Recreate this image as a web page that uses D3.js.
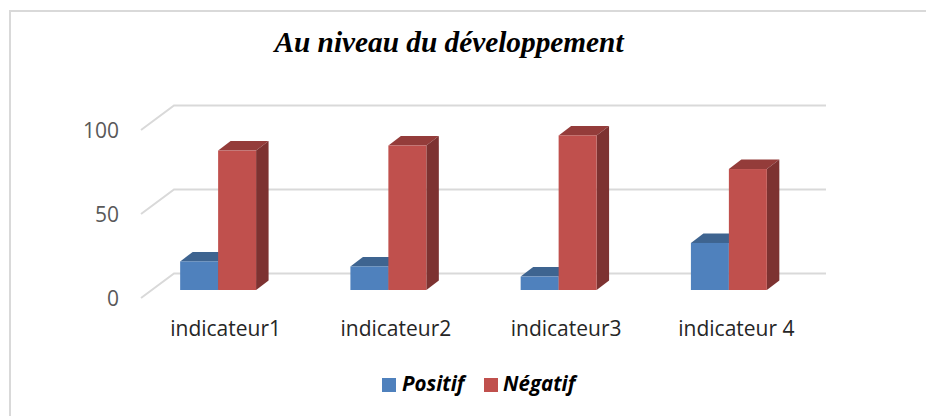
<!DOCTYPE html>
<html>
<head>
<meta charset="utf-8">
<script src="https://cdn.jsdelivr.net/npm/d3@7"></script>
<style>
  html, body { margin: 0; padding: 0; background: #fff; }
  svg { display: block; }
  text { font-family: "Open Sans", sans-serif; }
</style>
</head>
<body>
<div id="chart"></div>
<script>
const categories = ["indicateur1", "indicateur2", "indicateur3", "indicateur 4"];
const seriesNames = ["Positif", "Négatif"];
const positif = [17, 14, 8, 28];
const negatif = [83, 86, 92, 72];
const yTicks = [0, 50, 100];

const width = 926, height = 416;
const frontColors = {"Positif": "#4f81bd", "Négatif": "#c0504d"};
const topColors = {"Positif": "#3e6490", "Négatif": "#943c3a"};
const sideColors = {"Positif": "#335478", "Négatif": "#7d3231"};

let svg = d3.select("#chart").append("svg").attr("width", width).attr("height", height);

// frame, only the top and left edges
svg.append("path")
   .attr("d", "M10,416L10,11L926,11")
   .attr("fill", "none").attr("stroke", "#d9d9d9").attr("stroke-width", 2);

let x = d3.scaleBand().domain(categories).range([133, 814]).paddingInner(0.554).paddingOuter(0.277);
let xSub = d3.scaleBand().domain(seriesNames).range([0, x.bandwidth()]);
let y = d3.scaleLinear().domain([0, 100]).range([290, 122]);

// 3d offsets
const floorBack = {dx: 33, dy: -16.5};
const floorFront = {dx: 0, dy: 8};
const barDepth = {dx: 12.5, dy: -9.5};

// walls / gridlines
let grid = svg.append("g");
yTicks.forEach((t) => {
  let backY = y(t) + floorBack.dy;
  let frontY = y(t) + floorFront.dy;
  grid.append("path")
      .attr("d", "M141," + frontY + "L174," + backY + "L826," + backY)
      .attr("fill", "none").attr("stroke", "#d9d9d9").attr("stroke-width", 2);
});

// y axis labels
let yAxis = d3.axisLeft(y).tickValues(yTicks).tickSize(0).tickPadding(0);
let yG = svg.append("g").attr("transform", "translate(119,9)").call(yAxis);
yG.select(".domain").remove();
yG.selectAll("text").attr("font-size", 21).attr("fill", "#595959").style("font-family", '"Open Sans", sans-serif');

// x axis labels
let xAxis = d3.axisBottom(x).tickSize(0).tickPadding(0);
let xG = svg.append("g").attr("transform", "translate(7.5,330)").call(xAxis);
xG.select(".domain").remove();
xG.selectAll("text").attr("font-size", 21).attr("fill", "#262626").attr("dy", "0.3em").style("font-family", '"Open Sans", sans-serif');

function drawBar(name, cat, value) {
  let x0 = x(cat) + xSub(name);
  let w = xSub.bandwidth();
  let top = y(value);
  let base = y(0);
  let g = svg.append("g");
  g.append("polygon")
   .attr("points", [[x0, top], [x0 + barDepth.dx, top + barDepth.dy], [x0 + w + barDepth.dx, top + barDepth.dy], [x0 + w, top]].join(" "))
   .attr("fill", topColors[name]);
  g.append("polygon")
   .attr("points", [[x0 + w, top], [x0 + w + barDepth.dx, top + barDepth.dy], [x0 + w + barDepth.dx, base + barDepth.dy], [x0 + w, base]].join(" "))
   .attr("fill", sideColors[name]);
  g.append("rect")
   .attr("x", x0).attr("y", top).attr("width", w).attr("height", base - top)
   .attr("fill", frontColors[name]);
}

categories.forEach((c, i) => {
  drawBar("Positif", c, positif[i]);
  drawBar("Négatif", c, negatif[i]);
});

// title
svg.append("text")
   .attr("x", 449).attr("y", 52).attr("text-anchor", "middle")
   .style("font-family", '"Liberation Serif", serif')
   .attr("font-size", 29.3).attr("font-weight", "bold").attr("font-style", "italic").attr("fill", "#000")
   .text("Au niveau du développement");

// legend
const legendX = [382, 484], legendTextX = [402, 503];
seriesNames.forEach((name, i) => {
  svg.append("rect").attr("x", legendX[i]).attr("y", 378).attr("width", 14).attr("height", 14).attr("fill", frontColors[name]);
  svg.append("text").attr("x", legendTextX[i]).attr("y", 391)
     .attr("font-size", 20.5).attr("font-weight", "bold").attr("font-style", "italic").attr("fill", "#000")
     .text(name);
});
</script>
</body>
</html>
